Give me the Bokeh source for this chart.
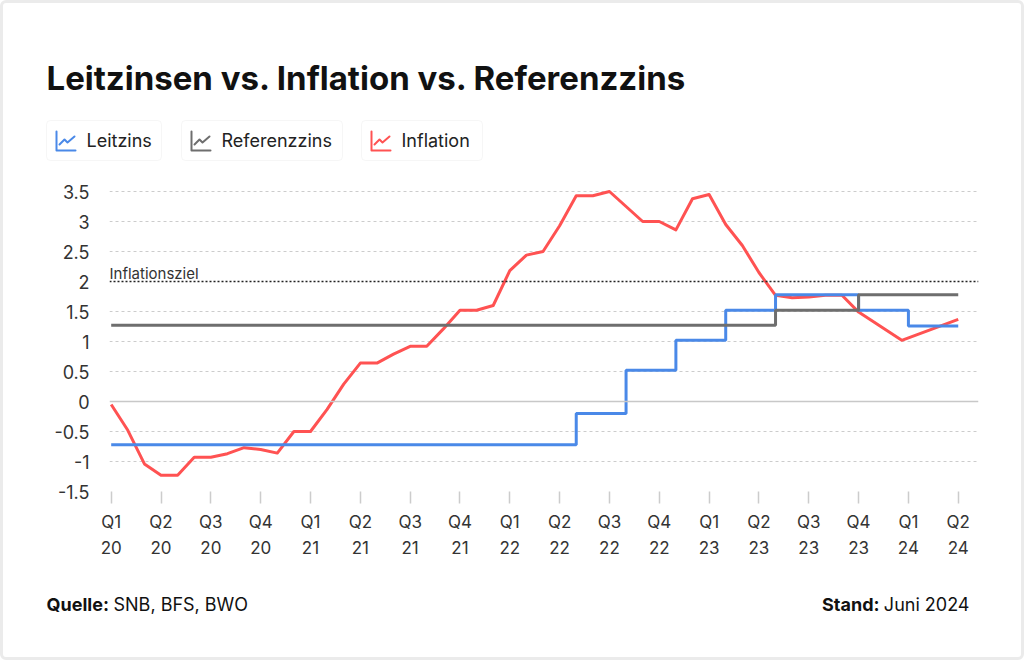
from bokeh.plotting import figure
from bokeh.models import Range1d, FixedTicker, NumeralTickFormatter, Span, Label, BoxAnnotation
from bokeh.layouts import column
from bokeh.embed import file_html
from bokeh.resources import INLINE
from bokeh.core.properties import value

FONT = "Inter"

# ---------------- data ----------------
title_text = "Leitzinsen vs. Inflation vs. Referenzzins"
legend_labels = ["Leitzins", "Referenzzins", "Inflation"]
colors = ["#4a89e8", "#6e6e6e", "#ff5252"]

quarter_months = list(range(0, 52, 3))
quarter_labels = ["Q1\n20", "Q2\n20", "Q3\n20", "Q4\n20",
                  "Q1\n21", "Q2\n21", "Q3\n21", "Q4\n21",
                  "Q1\n22", "Q2\n22", "Q3\n22", "Q4\n22",
                  "Q1\n23", "Q2\n23", "Q3\n23", "Q4\n23",
                  "Q1\n24", "Q2\n24"]

y_ticks = [-1.5, -1, -0.5, 0, 0.5, 1, 1.5, 2, 2.5, 3, 3.5]

infl_month = list(range(46)) + [47.6, 51]
inflation = [-0.05, -0.48, -1.04, -1.23, -1.23, -0.93, -0.93, -0.87, -0.77, -0.8,
             -0.86, -0.5, -0.5, -0.13, 0.29, 0.64, 0.64, 0.79, 0.92, 0.92,
             1.21, 1.52, 1.52, 1.6, 2.18, 2.44, 2.5, 2.93, 3.43, 3.43,
             3.5, 3.25, 3.0, 3.0, 2.86, 3.38, 3.45, 2.95, 2.6, 2.15,
             1.77, 1.73, 1.74, 1.77, 1.77, 1.49, 1.02, 1.37]

leitzins_month = [0, 28, 31, 34, 37, 40, 45, 48, 51]
leitzins = [-0.72, -0.2, 0.52, 1.02, 1.52, 1.78, 1.52, 1.26, 1.26]

ref_month = [0, 40, 45, 51]
referenzzins = [1.27, 1.52, 1.78, 1.78]

inflation_target = 2.0
target_label = "Inflationsziel"

source_bold, source_text = "Quelle:", "SNB, BFS, BWO"
stand_bold, stand_text = "Stand:", "Juni 2024"

PAD = 3
W = 1024 - 2 * PAD


def panel(height):
    fig = figure(width=W, height=height, x_range=Range1d(PAD, PAD + W),
                 y_range=Range1d(height, 0), output_backend="svg", toolbar_location=None,
                 min_border=0, x_axis_type=None, y_axis_type=None, outline_line_color=None,
                 frame_align=False, border_fill_color=None, background_fill_color=None)
    fig.grid.visible = False
    return fig


# ---------------- header (page-pixel coordinates) ----------------
H1 = 172
h = panel(H1)
OY1 = PAD  # header top on the page
h.text(x=[46], y=[77 - OY1], text=[title_text], text_font=value(FONT), text_font_style="bold",
       text_font_size="33px", text_color="#111111", text_baseline="alphabetic")

box_left = [46, 181, 361]
box_right = [161, 342, 482]
for i, lab in enumerate(legend_labels):
    h.add_layout(BoxAnnotation(left=box_left[i], right=box_right[i],
                               top=120 - OY1, bottom=160 - OY1,
                               fill_color="white", fill_alpha=1, line_color="#e2e2e2",
                               line_width=1, border_radius=4, level="underlay"))
    x0, y0 = box_left[i] + 10, 131 - OY1
    h.multi_line(xs=[[x0, x0, x0 + 19], [x0 + 3, x0 + 8, x0 + 11, x0 + 18]],
                 ys=[[y0, y0 + 19, y0 + 19], [y0 + 13, y0 + 8, y0 + 11, y0 + 5]],
                 line_color=colors[i], line_width=2, line_join="round", line_cap="round")
    h.text(x=[box_left[i] + 40], y=[140 - OY1], text=[lab], text_font=value(FONT),
           text_font_size="18px", text_color="#222222", text_baseline="middle")

# ---------------- main chart ----------------
H2 = 390
OY2 = PAD + H1
FRAME_L, FRAME_R, FRAME_T, FRAME_B = 109, 978, 185, 491
p = figure(width=W, height=H2, x_range=Range1d(-0.102, 52.22), y_range=Range1d(-1.5, 3.6),
           output_backend="svg", toolbar_location=None, frame_align=False,
           min_border_left=FRAME_L - PAD, min_border_right=W + PAD - FRAME_R,
           min_border_top=FRAME_T - OY2, min_border_bottom=OY2 + H2 - FRAME_B,
           outline_line_color=None, border_fill_color=None, background_fill_color=None)

p.yaxis.ticker = FixedTicker(ticks=y_ticks)
p.yaxis.formatter = NumeralTickFormatter(format="0.[0]")
p.yaxis.axis_line_color = None
p.yaxis.major_tick_line_color = None
p.yaxis.minor_tick_line_color = None
p.yaxis.major_label_standoff = 14
p.yaxis.major_label_text_font = FONT
p.yaxis.major_label_text_font_size = "18px"
p.yaxis.major_label_text_color = "#333333"

p.xaxis.ticker = FixedTicker(ticks=quarter_months)
p.xaxis.major_label_overrides = dict(zip(quarter_months, quarter_labels))
p.xaxis.axis_line_color = None
p.xaxis.major_tick_line_color = "#cccccc"
p.xaxis.major_tick_line_width = 1.5
p.xaxis.major_tick_out = 12
p.xaxis.major_tick_in = 0
p.xaxis.minor_tick_line_color = None
p.xaxis.major_label_standoff = 8
p.xaxis.major_label_text_font = FONT
p.xaxis.major_label_text_font_size = "17px"
p.xaxis.major_label_text_color = "#333333"
p.xaxis.major_label_text_line_height = 1.3

p.xgrid.grid_line_color = None
p.ygrid.ticker = FixedTicker(ticks=[t for t in y_ticks if t not in (0, 2)])
p.ygrid.grid_line_color = "#cccccc"
p.ygrid.grid_line_dash = "3 3"

p.add_layout(Span(location=0, dimension="width", line_color="#c8c8c8", line_width=1.5))
p.add_layout(Span(location=inflation_target, dimension="width", line_color="#222222",
                  line_width=1.5, line_dash="2 2"))
p.add_layout(Label(x=-0.102, y=inflation_target + 0.13, text=target_label,
                   text_baseline="alphabetic", text_font=FONT, text_font_size="15px",
                   text_color="#333333"))

p.line(infl_month, inflation, line_color=colors[2], line_width=3, line_join="round")
p.step(leitzins_month, leitzins, mode="after", line_color=colors[0], line_width=3)
p.step(ref_month, referenzzins, mode="after", line_color=colors[1], line_width=3)

# ---------------- footer ----------------
H3 = 660 - 2 * PAD - H1 - H2
OY3 = OY2 + H2
f = panel(H3)
FY = 604 - OY3
f.text(x=[46], y=[FY], text=[source_bold], text_font=value(FONT), text_font_style="bold",
       text_font_size="18px", text_color="#111111", text_baseline="middle")
f.text(x=[113], y=[FY], text=[source_text], text_font=value(FONT),
       text_font_size="18px", text_color="#111111", text_baseline="middle")
f.text(x=[969], y=[FY], text=[stand_text], text_font=value(FONT), text_align="right",
       text_font_size="18px", text_color="#111111", text_baseline="middle")
f.text(x=[879], y=[FY], text=[stand_bold], text_font=value(FONT), text_align="right",
       text_font_style="bold", text_font_size="18px", text_color="#111111",
       text_baseline="middle")

layout = column(h, p, f, spacing=0,
                styles={"background-color": "white", "border": "3px solid #ebebeb",
                        "border-radius": "6px"})

open("out.html", "w").write(file_html(layout, INLINE))
